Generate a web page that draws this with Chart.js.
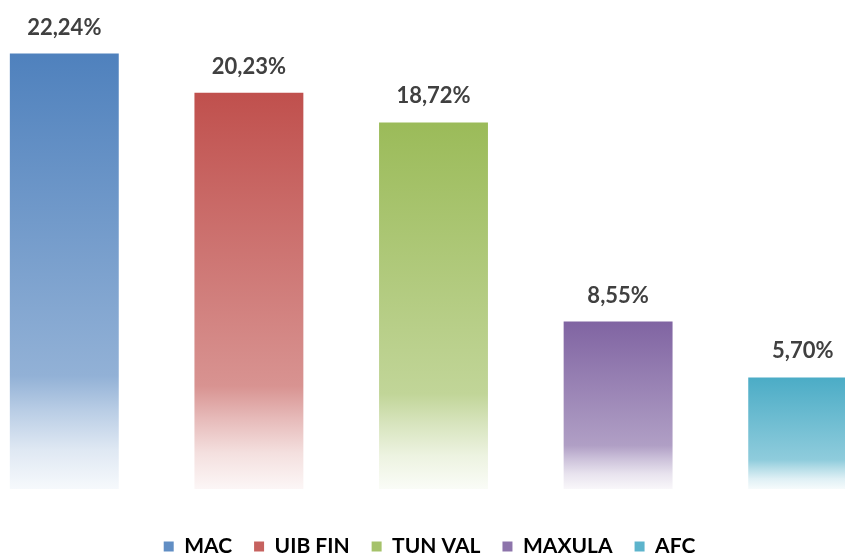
<!DOCTYPE html>
<html>
<head>
<meta charset="utf-8">
<script src="https://cdn.jsdelivr.net/npm/chart.js@4"></script>
<style>
  html, body { margin: 0; padding: 0; background: #fff; overflow: hidden; width: 845px; height: 556px; }
  #wrap { position: absolute; left: -28px; top: 0; width: 923px; height: 567px; }
</style>
</head>
<body>
<div id="wrap"><canvas id="shareChart"></canvas></div>
<script>
// Market share by fund
const categories = ['MAC', 'UIB FIN', 'TUN VAL', 'MAXULA', 'AFC'];
const shares = [22.24, 20.23, 18.72, 8.55, 5.70];
const barColors = ['#4F81BD', '#C0504D', '#9BBB59', '#8064A2', '#4BACC6'];

function hexToRgb(hex) {
  const n = parseInt(hex.slice(1), 16);
  return [(n >> 16) & 255, (n >> 8) & 255, n & 255];
}
function mixWhite(hex, t) {
  const [r, g, b] = hexToRgb(hex);
  const m = c => Math.round(c + (255 - c) * t);
  return 'rgb(' + m(r) + ',' + m(g) + ',' + m(b) + ')';
}

// vertical fade for each bar, from its own top down to the base line
function barGradient(context) {
  const chart = context.chart;
  if (!chart.chartArea || context.type !== 'data') return barColors[context.dataIndex];
  const yScale = chart.scales.y;
  const color = barColors[context.dataIndex];
  const top = yScale.getPixelForValue(context.raw);
  const base = yScale.getPixelForValue(0);
  const g = chart.ctx.createLinearGradient(0, top, 0, base);
  g.addColorStop(0, color);
  g.addColorStop(0.74, mixWhite(color, 0.38));
  g.addColorStop(0.82, mixWhite(color, 0.6));
  g.addColorStop(0.91, mixWhite(color, 0.82));
  g.addColorStop(1, mixWhite(color, 0.95));
  return g;
}

const valueLabels = {
  id: 'valueLabels',
  afterDatasetsDraw(chart) {
    const ctx = chart.ctx;
    const meta = chart.getDatasetMeta(0);
    ctx.save();
    ctx.font = 'bold 22px Lato';
    ctx.fillStyle = '#404040';
    ctx.textAlign = 'center';
    ctx.textBaseline = 'middle';
    meta.data.forEach((bar, i) => {
      ctx.fillText(shares[i].toFixed(2).replace('.', ',') + '%', bar.x, bar.y - 26);
    });
    ctx.restore();
  }
};

// legend in the original sits a touch left of the plot centre
const legendShift = {
  id: 'legendShift',
  afterLayout(chart) {
    chart.legend.left -= 4;
    chart.legend.right -= 4;
  }
};

new Chart(document.getElementById('shareChart'), {
  type: 'bar',
  data: {
    labels: categories,
    datasets: [{
      label: 'Part',
      data: shares,
      backgroundColor: barGradient,
      borderWidth: 0,
      categoryPercentage: 1,
      barPercentage: 0.59
    }]
  },
  options: {
    responsive: true,
    maintainAspectRatio: false,
    animation: false,
    layout: { padding: { top: 19, left: 0, right: 0, bottom: 0 } },
    plugins: {
      tooltip: { enabled: false },
      legend: {
        position: 'bottom',
        labels: {
          boxWidth: 10,
          boxHeight: 10,
          padding: 22,
          color: '#595959',
          font: { family: 'Lato', size: 21, weight: 'bold' },
          generateLabels: () => categories.map((c, i) => ({
            text: c,
            fillStyle: mixWhite(barColors[i], 0.1),
            strokeStyle: mixWhite(barColors[i], 0.1),
            lineWidth: 0,
            index: i
          }))
        }
      }
    },
    scales: {
      x: {
        display: true,
        grid: { display: false },
        border: { display: false },
        ticks: { display: false },
        afterFit: axis => { axis.height = 25; }
      },
      y: {
        display: false,
        min: 0,
        max: 24
      }
    }
  },
  plugins: [valueLabels, legendShift]
});
</script>
</body>
</html>
